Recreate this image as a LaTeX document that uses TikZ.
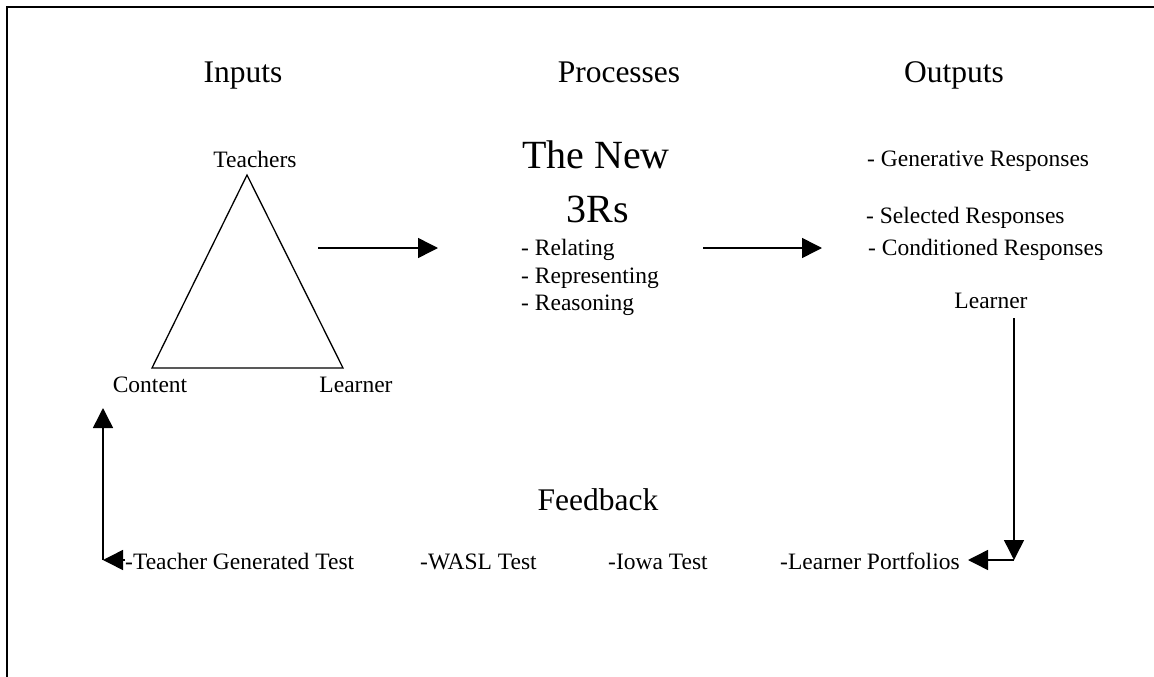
\documentclass[tikz,border=0pt]{standalone}
\usepackage{fontspec}
\setmainfont{Liberation Serif}
\usetikzlibrary{arrows.meta}
\tikzset{
  head/.style={font=\fontsize{31.5}{36}\selectfont, inner sep=0pt, anchor=base},
  item/.style={font=\fontsize{23.5}{28}\selectfont, inner sep=0pt, anchor=base},
  big/.style={font=\fontsize{40}{46}\selectfont, inner sep=0pt, anchor=base},
  flow/.style={line width=1.5pt, -{Triangle[length=20pt,width=20pt]}},
  link/.style={line width=1.5pt}
}
\begin{document}
\begin{tikzpicture}[x=1pt,y=-1pt]
\useasboundingbox (0,0) rectangle (1154,677);
% Rahmen
\draw[line width=2pt] (7,677) -- (7,7) -- (1154,7);
% Titel
\node[head] (inputs) at (243,83) {Inputs};
\node[head] (processes) at (619,83) {Processes};
\node[head] (outputs) at (954,83) {Outputs};
% Dreieck
\coordinate (apex) at (247,175);
\coordinate (left) at (152,368);
\coordinate (right) at (343,368);
\draw[line width=1.3pt] (apex) -- (left) -- (right) -- cycle;
\node[item] (teachers) at (255,167) {Teachers};
\node[item] (content) at (150,392) {Content};
\node[item] (learnerin) at (356,392) {Learner};
% Prozesse
\node[big] (new) at (596,168) {The New};
\node[big] (rs) at (598,222) {3Rs};
\node[item, anchor=base west] (relating) at (521,255) {- Relating};
\node[item, anchor=base west] (representing) at (521,283) {- Representing};
\node[item, anchor=base west] (reasoning) at (521,310) {- Reasoning};
% Ergebnisse
\node[item, anchor=base west] (generative) at (867,166) {- Generative Responses};
\node[item, anchor=base west] (selected) at (866,223) {- Selected Responses};
\node[item, anchor=base west] (conditioned) at (868,255) {- Conditioned Responses};
\node[item] (learnerout) at (991,308) {Learner};
% Pfeile
\coordinate (a1) at (318,248);
\coordinate (b1) at (438,248);
\coordinate (a2) at (703,248);
\coordinate (b2) at (822,248);
\draw[flow] (a1) -- (b1);
\draw[flow] (a2) -- (b2);
% Rueckmeldung
\node[head] (feedback) at (598,510) {Feedback};
\node[item, anchor=base west] (tgt) at (125,569) {-Teacher Generated Test};
\node[item, anchor=base west] (wasl) at (420,569) {-WASL Test};
\node[item, anchor=base west] (iowa) at (608,569) {-Iowa Test};
\node[item, anchor=base west] (portfolios) at (780,569) {-Learner Portfolios};
\coordinate (down) at (1014,318);
\coordinate (corner) at (1014,560);
\coordinate (back) at (968,560);
\draw[flow] (down) -- (corner);
\draw[flow] (corner) -- (back);
\coordinate (start) at (125,560);
\coordinate (turn) at (103,560);
\coordinate (up) at (103,408);
\draw[flow] (start) -- (turn);
\draw[flow] (turn) -- (up);
\end{tikzpicture}
\end{document}
